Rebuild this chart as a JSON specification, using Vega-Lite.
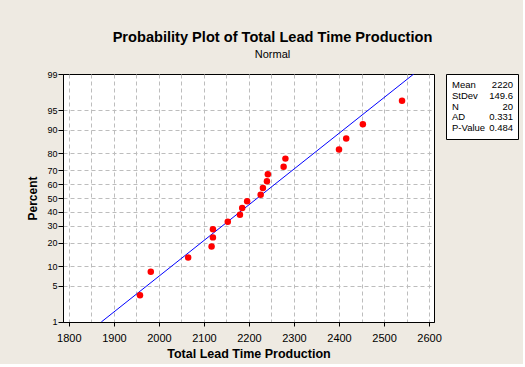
{
  "$schema": "https://vega.github.io/schema/vega-lite/v6.json",
  "background": "#EEEAE2",
  "padding": {"left": 26, "top": 29, "right": 4, "bottom": 4},
  "title": {
    "text": "Probability Plot of Total Lead Time Production",
    "subtitle": "Normal",
    "anchor": "middle",
    "font": "Liberation Sans",
    "fontSize": 14.6,
    "fontWeight": "bold",
    "color": "#000000",
    "subtitleFont": "Liberation Sans",
    "subtitleFontSize": 11,
    "subtitleColor": "#000000",
    "subtitlePadding": 4,
    "offset": 10
  },
  "spacing": 12,
  "bounds": "flush",
  "config": {
    "view": {"stroke": "#000000", "strokeWidth": 1, "fill": "#FFFFFF"},
    "font": "Liberation Sans"
  },
  "hconcat": [
    {
      "width": 371,
      "height": 248,
      "layer": [
        {
          "data": {"values": [
            {"time": 1872, "percent": 1},
            {"time": 2566, "percent": 99}
          ]},
          "transform": [{"calculate": "quantileNormal(datum.percent / 100)", "as": "z"}],
          "mark": {"type": "line", "color": "#0000FF", "strokeWidth": 1, "clip": true},
          "encoding": {
            "x": {"field": "time", "type": "quantitative"},
            "y": {"field": "z", "type": "quantitative"}
          }
        },
        {
          "data": {"values": [
            {"time": 1958, "percent": 3.4},
            {"time": 1982, "percent": 8.3},
            {"time": 2065, "percent": 13.2},
            {"time": 2117, "percent": 18.1},
            {"time": 2120, "percent": 23.0},
            {"time": 2120, "percent": 27.9},
            {"time": 2153, "percent": 32.8},
            {"time": 2180, "percent": 37.7},
            {"time": 2185, "percent": 42.6},
            {"time": 2196, "percent": 47.5},
            {"time": 2226, "percent": 52.5},
            {"time": 2231, "percent": 57.4},
            {"time": 2240, "percent": 62.3},
            {"time": 2242, "percent": 67.2},
            {"time": 2277, "percent": 72.1},
            {"time": 2281, "percent": 77.0},
            {"time": 2400, "percent": 81.9},
            {"time": 2416, "percent": 86.8},
            {"time": 2453, "percent": 91.7},
            {"time": 2540, "percent": 96.6}
          ]},
          "transform": [{"calculate": "quantileNormal(datum.percent / 100)", "as": "z"}],
          "mark": {"type": "point", "filled": true, "color": "#FF0000", "opacity": 1, "size": 42},
          "encoding": {
            "x": {
              "field": "time",
              "type": "quantitative",
              "scale": {"domain": [1787, 2611], "nice": false, "zero": false},
              "axis": {
                "title": "Total Lead Time Production",
                "values": [1800, 1850, 1900, 1950, 2000, 2050, 2100, 2150, 2200, 2250, 2300, 2350, 2400, 2450, 2500, 2550, 2600],
                "tickCount": 40,
                "format": "d",
                "labelExpr": "datum.value % 100 === 0 ? datum.label : ''",
                "tickOpacity": {"condition": {"test": "datum.value % 100 === 0", "value": 1}, "value": 0},
                "tickColor": "#000000",
                "tickSize": 4,
                "domainColor": "#000000",
                "labelColor": "#000000",
                "labelFontSize": 11,
                "labelPadding": 6,
                "labelFlush": false,
                "labelOverlap": false,
                "grid": true,
                "gridDash": [4, 3],
                "gridColor": "#BDBDBD",
                "gridOpacity": 1,
                "titleFontSize": 12.5,
                "titleFontWeight": "bold",
                "titleColor": "#000000",
                "titlePadding": 4
              }
            },
            "y": {
              "field": "z",
              "type": "quantitative",
              "scale": {"domain": [-2.32635, 2.32635], "nice": false, "zero": false},
              "axis": {
                "title": "Percent",
                "values": [-2.3263, -1.6449, -1.2816, -0.8416, -0.5244, -0.2533, 0, 0.2533, 0.5244, 0.8416, 1.2816, 1.6449, 2.3263],
                "tickCount": 40,
                "labelExpr": "format(cumulativeNormal(datum.value) * 100, '.0f')",
                "tickColor": "#000000",
                "tickSize": 5,
                "domainColor": "#000000",
                "labelColor": "#000000",
                "labelFontSize": 9,
                "labelPadding": 1,
                "labelFlush": false,
                "labelOverlap": false,
                "grid": true,
                "gridDash": [4, 3],
                "gridColor": "#BDBDBD",
                "gridOpacity": {"condition": {"test": "abs(datum.value) > 2.3", "value": 0}, "value": 1},
                "titleFontSize": 12,
                "titleFontWeight": "bold",
                "titleColor": "#000000",
                "titlePadding": 7
              }
            }
          }
        }
      ]
    },
    {
      "width": 72,
      "height": 65,
      "data": {"values": [
        {"label": "Mean", "value": "2220"},
        {"label": "StDev", "value": "149.6"},
        {"label": "N", "value": "20"},
        {"label": "AD", "value": "0.331"},
        {"label": "P-Value", "value": "0.484"}
      ]},
      "encoding": {
        "y": {"field": "label", "type": "ordinal", "sort": null, "scale": {"type": "point", "padding": 1}, "axis": null}
      },
      "layer": [
        {
          "mark": {"type": "text", "align": "left", "baseline": "middle", "fontSize": 9.5, "color": "#000000"},
          "encoding": {
            "x": {"datum": 0, "type": "quantitative", "scale": {"domain": [-0.0984, 1.082], "nice": false, "zero": false}, "axis": null},
            "text": {"field": "label"}
          }
        },
        {
          "mark": {"type": "text", "align": "right", "baseline": "middle", "fontSize": 9.5, "color": "#000000"},
          "encoding": {
            "x": {"datum": 1, "type": "quantitative"},
            "text": {"field": "value"}
          }
        }
      ]
    }
  ]
}
